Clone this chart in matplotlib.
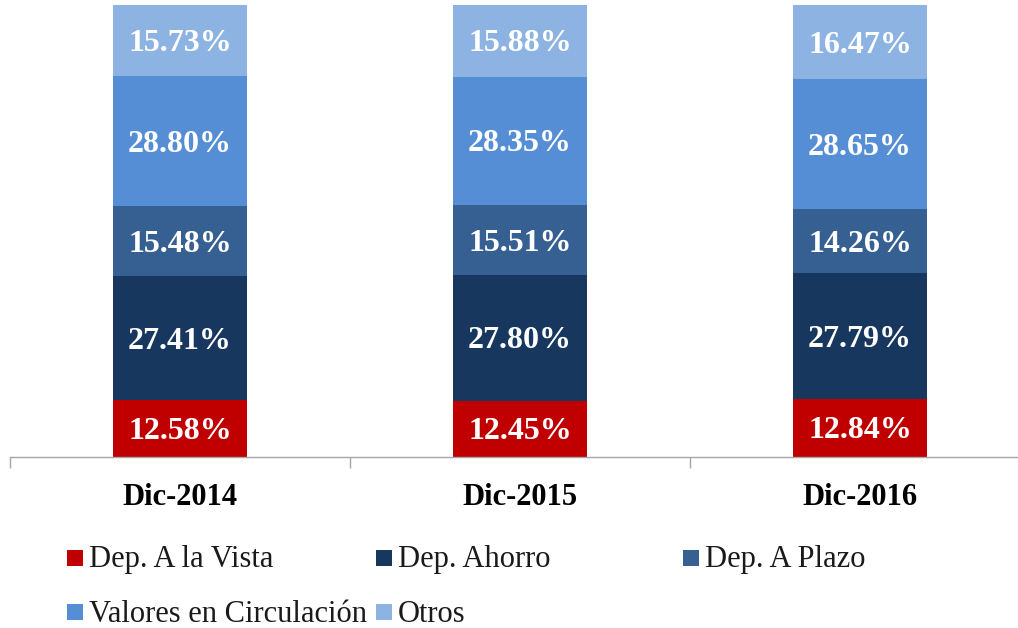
import numpy as np
import matplotlib.pyplot as plt
from matplotlib.patches import Rectangle

# Data (percent of total)
categories = ['Dic-2014', 'Dic-2015', 'Dic-2016']
series = ['Dep. A la Vista', 'Dep. Ahorro', 'Dep. A Plazo',
          'Valores en Circulación', 'Otros']
vista = [12.58, 12.45, 12.84]
ahorro = [27.41, 27.80, 27.79]
plazo = [15.48, 15.51, 14.26]
valores = [28.80, 28.35, 28.65]
otros = [15.73, 15.88, 16.47]

colors = ['#C00000', '#17375E', '#366092', '#558ED5', '#8DB3E2']

plt.rcParams['font.family'] = ['Liberation Serif', 'DejaVu Serif']

W, H = 1018, 628
fig = plt.figure(figsize=(W / 100, H / 100), dpi=100)
# axes spans category boundaries x=10..1030 px, y=5..457 px
ax = fig.add_axes([10 / W, (H - 457) / H, 1020 / W, 452 / H])

x = np.arange(len(categories))
bottom = np.zeros(len(categories))
for vals, col in zip([vista, ahorro, plazo, valores, otros], colors):
    vals = np.array(vals)
    ax.bar(x, vals, width=0.397, bottom=bottom, color=col, edgecolor='none')
    for xi, b, v in zip(x, bottom, vals):
        ax.annotate(f'{v:.2f}%', (xi, b + v / 2), xytext=(0, -3),
                    textcoords='offset pixels', ha='center', va='center',
                    color='white', fontsize=23, fontweight='bold')
    bottom += vals

ax.set_xlim(-0.5, 2.5)
ax.set_ylim(0, 100)
for s in ['top', 'right', 'left']:
    ax.spines[s].set_visible(False)
ax.spines['bottom'].set_color('#A6A6A6')
ax.spines['bottom'].set_linewidth(1.0)
ax.set_yticks([])
ax.set_xticks(x)
ax.set_xticklabels(categories, fontsize=22, fontweight='bold')
ax.tick_params(axis='x', which='major', length=0, pad=19)
ax.set_xticks(np.arange(-0.5, 3.0, 1.0), minor=True)
ax.tick_params(axis='x', which='minor', length=8, color='#A6A6A6', width=1.0)

# legend laid out like the original (equal column widths)
col_x = [67, 376, 683]
row_y = [558, 612]
for i, (name, col) in enumerate(zip(series, colors)):
    px = col_x[i % 3]
    py = row_y[i // 3]
    fig.patches.append(Rectangle((px / W, 1 - (py + 8) / H), 16 / W, 16 / H,
                                 transform=fig.transFigure, facecolor=col,
                                 edgecolor='none'))
    fig.text((px + 22) / W, 1 - (py + 2) / H, name, ha='left', va='center',
             fontsize=22, color='#1a1a1a')

fig.savefig('out.png', dpi=100)
